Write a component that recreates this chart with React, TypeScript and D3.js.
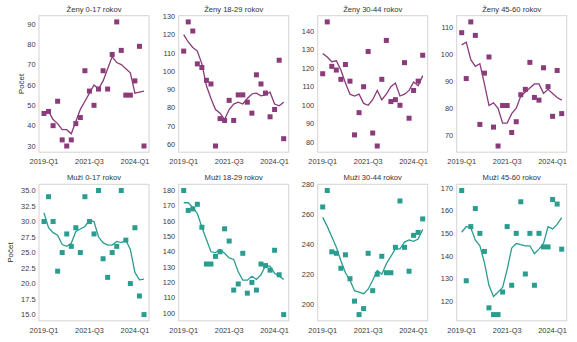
import React from "react";
import * as d3 from "d3";

const quarters = [
  "2019-Q1","2019-Q2","2019-Q3","2019-Q4","2020-Q1","2020-Q2","2020-Q3","2020-Q4",
  "2021-Q1","2021-Q2","2021-Q3","2021-Q4","2022-Q1","2022-Q2","2022-Q3","2022-Q4",
  "2023-Q1","2023-Q2","2023-Q3","2023-Q4","2024-Q1","2024-Q2","2024-Q3",
];
const xTickLabels = ["2019-Q1", "2021-Q3", "2024-Q1"];

const titles = [
  "Ženy 0-17 rokov", "Ženy 18-29 rokov", "Ženy 30-44 rokov", "Ženy 45-60 rokov",
  "Muži 0-17 rokov", "Muži 18-29 rokov", "Muži 30-44 rokov", "Muži 45-60 rokov",
];

const zeny0017 = [46,47,40,52,33,30,33,41,44,67,57,50,58,67,58,75,91,77,55,55,62,79,30];
const zeny0017Trend = [46,47,43,41,38,38,36,42,48,52,56,60,58,62,68,74,71,70,68,66,56,56.5,57];
const zeny1829 = [111,127,122,104,102,95,93,59,74,73,84,73,87,87,83,77,98,93,88,75,79,106,63];
const zeny1829Trend = [120,116,113,111,104,92,85,79,77,73.5,79,82,83,82,85,87.5,88,86.5,87,88.5,82,81,83];
const zeny3044 = [117,145,121,119,114,122,113,84,96,110,129,85,78,114,135,102,103,100,123,93,108,113,127];
const zeny3044Trend = [128,126,123.5,124,119,112,106,105,106,101,100,103,108,103,106,110,112,105,106,108,112.5,110.5,116];
const zeny4560 = [108,91,112,107,74,93,99,73,66,81,81,71,75,85,87,97,84,83,95,88,77,94,78];
const zeny4560Trend = [103.5,104.5,98,95.5,96.5,89,81,82,80,74.5,74.5,78,80,84.5,86,87.5,89,89,85.5,87,85.5,84,83];
const muzi0017 = [30,34,30,22,25,28,26,29,25,34,30,28,35,24,21,25,26,35,27,20,29,18,15];
const muzi0017Trend = [31.4,29,28.2,27.8,26.3,26,26.5,28.4,28.8,29.2,30.2,30,27.5,26.6,26.2,26.2,26.8,26.6,27,25.5,21.8,20.6,20.7];
const muzi1829 = [180,167,168,171,156,132,132,137,140,155,147,115,119,139,113,120,115,132,131,128,141,125,99];
const muzi1829Trend = [172,172,169,165,156,148,140,139.5,141.5,139,136,135,127,121.5,121.5,124,122,125,131,130.5,126,124,122];
const muzi3044 = [265,276,235,234,224,233,217,202,193,197,234,209,220,232,221,221,238,269,238,222,246,248,257];
const muzi3044Trend = [258,252,245,238,229,221,216,209,208,207,210,216,222.5,220,227,232,237,237,241.5,243,242,243.5,250];
const muzi4560 = [169,129,153,161,150,142,117,114,114,124,153,127,150,164,132,150,127,150,144,144,165,163,143];
const muzi4560Trend = [150.5,153,152.5,147,144.5,137,127,122,124,126,134,143.5,145.5,145,144.5,144.5,141,143,145.5,153,152,154,157];

const points = [zeny0017, zeny1829, zeny3044, zeny4560, muzi0017, muzi1829, muzi3044, muzi4560];
const trends = [zeny0017Trend, zeny1829Trend, zeny3044Trend, zeny4560Trend, muzi0017Trend, muzi1829Trend, muzi3044Trend, muzi4560Trend];

const yTicks = [
  [30,40,50,60,70,80,90],
  [60,70,80,90,100,110,120,130],
  [80,90,100,110,120,130,140],
  [70,80,90,100,110],
  [15,17.5,20,22.5,25,27.5,30,32.5,35],
  [100,110,120,130,140,150,160,170,180],
  [200,220,240,260,280],
  [120,130,140,150,160,170],
];
const yTickFormats = ["d","d","d","d",".1f","d","d","d"];
const yLabel = "Počet";

const COLORS = ["#8b3a7a", "#2a9d8f"];
const colLeft = [39, 178.7, 317.7, 456.7];
const rowTop = [15.7, 184.3];
const yLabelX = [20.7, 10.5];
const PW = 110;
const PH = 136.5;
const FONT = "'Liberation Sans', Arial, sans-serif";

function Panel({ i }: { i: number }) {
  const row = Math.floor(i / 4);
  const col = i % 4;
  const left = colLeft[col];
  const top = rowTop[row];
  const color = COLORS[row];
  const pts = points[i];
  const tr = trends[i];
  const all = pts.concat(tr);
  const mn = d3.min(all)!;
  const mx = d3.max(all)!;
  const pad = (mx - mn) * 0.05;
  const n = quarters.length;
  const xpad = (n - 1) * 0.05;
  const x = d3.scaleLinear().domain([-xpad, n - 1 + xpad]).range([left, left + PW]);
  const y = d3.scaleLinear().domain([mn - pad, mx + pad]).range([top + PH, top]);
  const line = d3.line<number>().x((_, k) => x(k)).y((v) => y(v));
  const fmt = d3.format(yTickFormats[i]);
  return (
    <g>
      <text x={left + PW / 2} y={top - 4} textAnchor="middle" fontSize={7.6} fill="#333" fontFamily={FONT}>
        {titles[i]}
      </text>
      <rect x={left} y={top} width={PW} height={PH} fill="none" stroke="#d4d4d4" strokeWidth={1} />
      {yTicks[i].map((t) => (
        <text key={t} x={left - 3.5} y={y(t)} dy="0.35em" textAnchor="end" fontSize={7.4} fill="#3a3a3a" fontFamily={FONT}>
          {fmt(t)}
        </text>
      ))}
      {xTickLabels.map((lab) => (
        <text key={lab} x={x(quarters.indexOf(lab))} y={top + PH + 12.2} textAnchor="middle" fontSize={7.4} fill="#3a3a3a" fontFamily={FONT}>
          {lab}
        </text>
      ))}
      {col === 0 && (
        <text transform={`translate(${yLabelX[row]},${top + PH / 2}) rotate(-90)`} textAnchor="middle" dy="0.35em" fontSize={8} fill="#333" fontFamily={FONT}>
          {yLabel}
        </text>
      )}
      <path d={line(tr)!} fill="none" stroke={color} strokeWidth={1.3} />
      {pts.map((v, k) => (
        <rect key={k} x={x(k) - 2.5} y={y(v) - 2.5} width={5} height={5} fill={color} />
      ))}
    </g>
  );
}

export default function App() {
  return (
    <svg width={577} height={342} style={{ position: "fixed", left: 0, top: 0, background: "#fff" }}>
      <rect width={577} height={342} fill="#fff" />
      {titles.map((_, i) => (
        <Panel key={i} i={i} />
      ))}
    </svg>
  );
}
